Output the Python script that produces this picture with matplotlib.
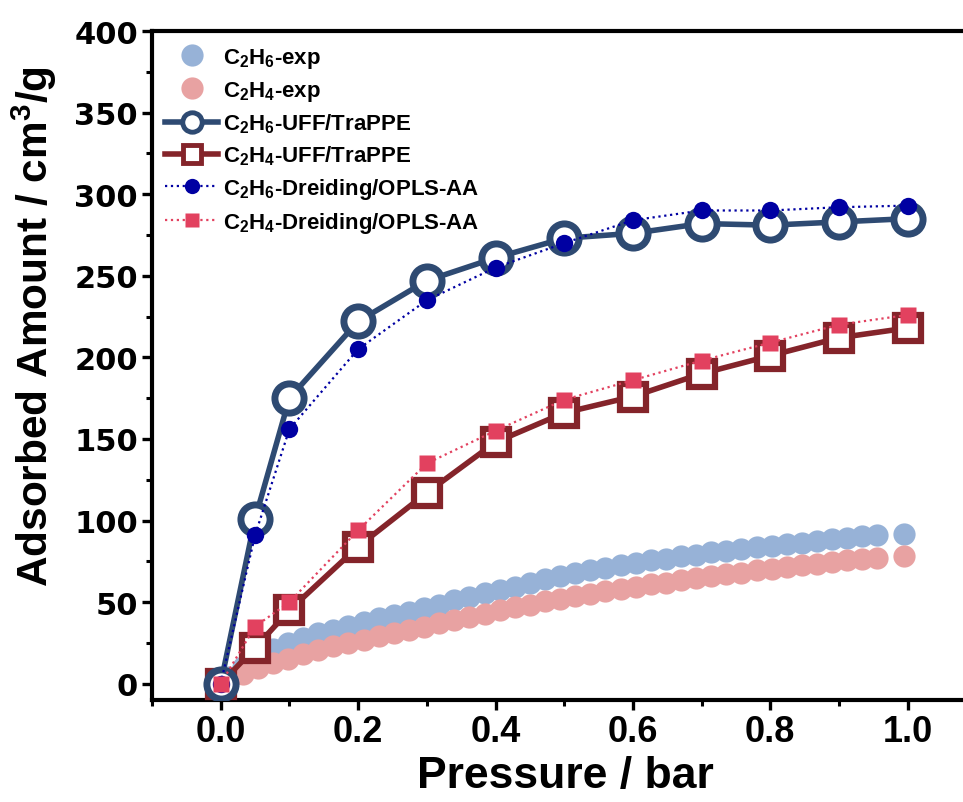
import matplotlib
matplotlib.use('Agg')
import matplotlib.pyplot as plt
from matplotlib.ticker import MultipleLocator
from matplotlib.lines import Line2D

# ---------------- data ----------------
pressure_exp = [0.010, 0.032, 0.054, 0.076, 0.098, 0.120, 0.142, 0.164, 0.186, 0.208,
                0.230, 0.252, 0.274, 0.296, 0.318, 0.340, 0.362, 0.384, 0.406, 0.428,
                0.450, 0.472, 0.494, 0.516, 0.538, 0.560, 0.582, 0.604, 0.626, 0.648,
                0.670, 0.692, 0.714, 0.736, 0.758, 0.780, 0.802, 0.824, 0.846, 0.868,
                0.890, 0.912, 0.934, 0.956, 0.995]
c2h6_exp = [4, 10, 15, 21, 25, 28, 31, 33, 35.5, 38,
            40, 42, 44, 46.5, 48.5, 51, 53, 55.5, 57.5, 59.5,
            61.5, 64, 66, 68, 69.5, 71, 72.5, 74, 75.5, 76.5,
            78, 79, 80.5, 81.5, 82.5, 83.5, 84.5, 85.5, 86.5, 87.5,
            88.5, 89.5, 90.5, 91, 92]
c2h4_exp = [2, 6, 9.5, 12.5, 15, 18, 20.5, 23, 25, 27,
            29, 31, 33, 35, 37, 39, 41, 43, 45, 47,
            48.5, 50.5, 52, 53.5, 55, 56.5, 58, 59.5, 61, 62,
            63.5, 64.5, 66, 67, 68, 69.5, 70.5, 71.5, 72.5, 73.5,
            74.5, 75.5, 76.5, 77, 78.5]

pressure_sim = [0.0, 0.05, 0.1, 0.2, 0.3, 0.4, 0.5, 0.6, 0.7, 0.8, 0.9, 1.0]
c2h6_uff = [0, 101, 175, 222, 247, 261, 273, 276, 282, 281, 283, 285]
c2h4_uff = [0, 22, 45, 84, 117, 148, 166, 176, 190, 201, 212, 218]
c2h6_dreiding = [0, 91, 156, 205, 235, 255, 270, 284, 290, 290, 292, 293]
c2h4_dreiding = [0, 35, 50, 94, 135, 155, 174, 186, 198, 209, 220, 226]

labels = [r'C$_2$H$_6$-exp', r'C$_2$H$_4$-exp',
          r'C$_2$H$_6$-UFF/TraPPE', r'C$_2$H$_4$-UFF/TraPPE',
          r'C$_2$H$_6$-Dreiding/OPLS-AA', r'C$_2$H$_4$-Dreiding/OPLS-AA']

x_ticks = [0.0, 0.2, 0.4, 0.6, 0.8, 1.0]
y_ticks = [0, 50, 100, 150, 200, 250, 300, 350, 400]

# ---------------- style ----------------
plt.rcParams['font.family'] = ['Liberation Sans', 'DejaVu Sans']
plt.rcParams['font.weight'] = 'bold'
plt.rcParams['mathtext.fontset'] = 'custom'
plt.rcParams['mathtext.rm'] = 'Liberation Sans:bold'
plt.rcParams['mathtext.it'] = 'Liberation Sans:bold'
plt.rcParams['mathtext.bf'] = 'Liberation Sans:bold'
plt.rcParams['mathtext.default'] = 'rm'

W, H = 963, 803
fig = plt.figure(figsize=(W / 100, H / 100), dpi=100)
ax_left, ax_bottom_px, ax_top_px = 152, 701, 32
xmin, xmax = -0.1, 1.1
px_per_unit = 687.0
ax_w = (xmax - xmin) * px_per_unit
ax_h = ax_bottom_px - ax_top_px
ax = fig.add_axes([ax_left / W, (H - ax_bottom_px) / H, ax_w / W, ax_h / H])

c_exp6 = '#97B2D7'
c_exp4 = '#E8A2A2'
c_uff6 = '#2E4A72'
c_uff4 = '#84242A'
c_dre6 = '#0000A2'
c_dre4 = '#E2415F'

ax.plot(pressure_exp, c2h6_exp, 'o', ms=16, color=c_exp6, mec='none', zorder=2)
ax.plot(pressure_exp, c2h4_exp, 'o', ms=16, color=c_exp4, mec='none', zorder=2.1)
ax.plot(pressure_sim, c2h4_uff, '-s', color=c_uff4, lw=4, ms=19, mew=4.5,
        mfc='white', mec=c_uff4, zorder=3)
ax.plot(pressure_sim, c2h6_uff, '-o', color=c_uff6, lw=4, ms=21, mew=5,
        mfc='white', mec=c_uff6, zorder=3.1)
ax.plot(pressure_sim, c2h6_dreiding, ':o', color=c_dre6, lw=1.6, ms=12.5,
        mec='none', zorder=4)
ax.plot(pressure_sim, c2h4_dreiding, ':s', color=c_dre4, lw=1.6, ms=11,
        mec='none', zorder=4.1)

# legend proxies (smaller markers, as in the reference legend)
handles = [
    Line2D([], [], ls='none', marker='o', ms=16, color=c_exp6, mec='none'),
    Line2D([], [], ls='none', marker='o', ms=16, color=c_exp4, mec='none'),
    Line2D([], [], ls='-', lw=4, marker='o', ms=14, mew=3.5, color=c_uff6,
           mfc='white', mec=c_uff6),
    Line2D([], [], ls='-', lw=4, marker='s', ms=13, mew=3.5, color=c_uff4,
           mfc='white', mec=c_uff4),
    Line2D([], [], ls=':', lw=1.6, marker='o', ms=11, color=c_dre6, mec='none'),
    Line2D([], [], ls=':', lw=1.6, marker='s', ms=10, color=c_dre4, mec='none'),
]

ax.set_xlim(xmin, xmax)
ax.set_ylim(-10, 400)
ax.set_xticks(x_ticks)
ax.set_yticks(y_ticks)
ax.xaxis.set_minor_locator(MultipleLocator(0.1))
ax.yaxis.set_minor_locator(MultipleLocator(25))
ax.set_xticklabels([f'{v:.1f}' for v in x_ticks],
                   fontdict=dict(family='Liberation Sans', weight='bold', size=26))
ax.set_yticklabels([str(v) for v in y_ticks],
                   fontdict=dict(family='DejaVu Sans', weight='bold', size=22))

for s in ['left', 'bottom', 'top', 'right']:
    ax.spines[s].set_linewidth(3)
ax.tick_params(which='major', direction='out', length=7, width=2.4, pad=3,
               top=False, right=False)
ax.tick_params(which='minor', direction='out', length=4, width=2.2,
               top=False, right=False)

ax.set_xlabel('Pressure / bar', family='Liberation Sans', weight='bold', size=32)
ax.set_ylabel(r'Adsorbed Amount / cm$^3$/g', family='Liberation Sans',
              weight='bold', size=30.5)
ax.xaxis.set_label_coords((565 - ax_left) / ax_w, -(777 - ax_bottom_px) / ax_h)
ax.xaxis.label.set_va('center')
ax.yaxis.set_label_coords(-(152 - 34) / ax_w, (ax_bottom_px - 327) / ax_h)
ax.yaxis.label.set_va('center')

leg = ax.legend(handles, labels, loc='upper left',
                bbox_to_anchor=(13 / ax_w, 1 - 15 / ax_h),
                frameon=False, fontsize=16, handlelength=2.4, handletextpad=0.2,
                labelspacing=0.39, borderaxespad=0, borderpad=0)
for t in leg.get_texts():
    t.set_fontweight('bold')

fig.savefig('out.png', dpi=100)
